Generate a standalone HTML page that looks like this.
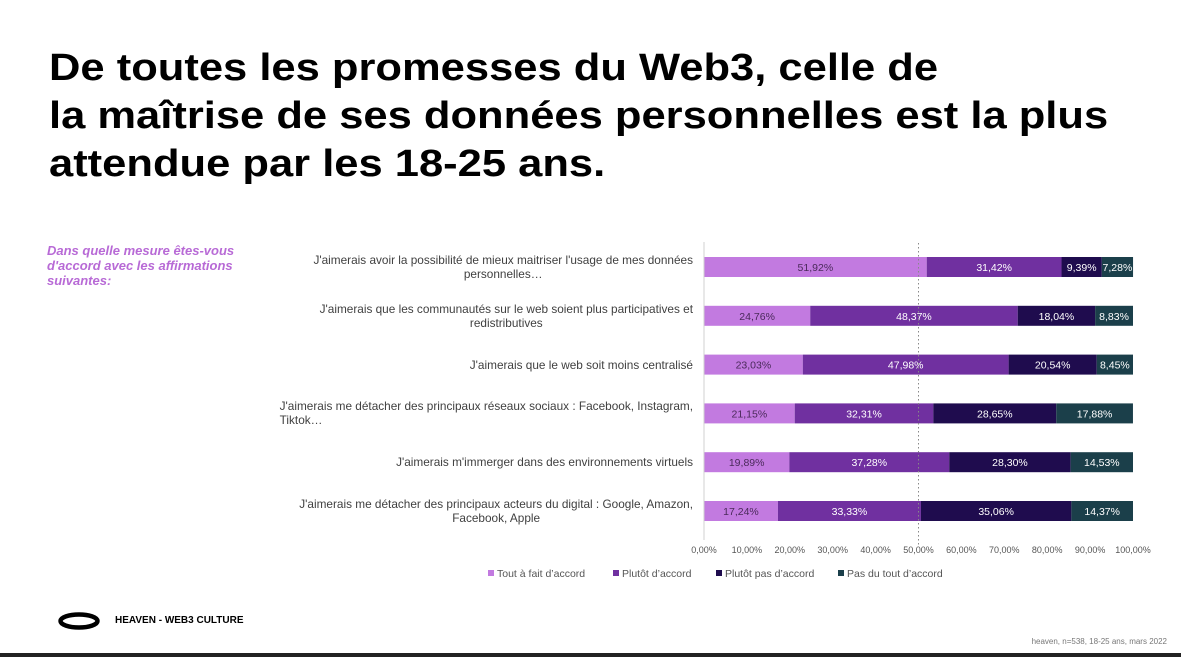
<!DOCTYPE html>
<html><head><meta charset="utf-8"><style>
body{margin:0;width:1181px;height:657px;background:#fff;overflow:hidden;position:relative;font-family:"Liberation Sans",sans-serif}
#title{position:absolute;left:49px;top:44px;font-size:38px;font-weight:bold;line-height:48px;color:#000;transform:scaleX(1.145);transform-origin:0 0;white-space:nowrap}
#q{position:absolute;left:47px;top:243px;width:230px;font-size:13px;font-weight:bold;font-style:italic;color:#b86ad6;line-height:15px}
.lab{position:absolute;right:488px;text-align:center;font-size:11.8px;color:#404040;line-height:14px;white-space:nowrap}
#brand{position:absolute;left:115px;top:615px;font-size:10px;font-weight:bold;color:#000}
#src{position:absolute;right:14px;top:637px;font-size:8px;color:#777}
</style></head><body>
<div id="title">De toutes les promesses du Web3, celle de<br>la maîtrise de ses données personnelles est la plus<br>attendue par les 18-25 ans.</div>
<div id="q">Dans quelle mesure êtes-vous d'accord avec les affirmations suivantes:</div>
<div id="labels"></div>
<svg id="chart" width="1181" height="657" style="position:absolute;left:0;top:0"></svg>
<svg style="position:absolute;left:57px;top:611px" width="44" height="22"><ellipse cx="22" cy="10" rx="18.5" ry="6.5" fill="none" stroke="#000" stroke-width="4.5"/></svg>
<div id="brand">HEAVEN - WEB3 CULTURE</div>
<div id="src">heaven, n=538, 18-25 ans, mars 2022</div>
<div style="position:absolute;left:0;top:653px;width:1181px;height:4px;background:#222"></div>
<script>
const categories=["J'aimerais avoir la possibilité de mieux maitriser l'usage de mes données|personnelles…","J'aimerais que les communautés sur le web soient plus participatives et|redistributives","J'aimerais que le web soit moins centralisé","J'aimerais me détacher des principaux réseaux sociaux : Facebook, Instagram,|Tiktok…","J'aimerais m'immerger dans des environnements virtuels","J'aimerais me détacher des principaux acteurs du digital : Google, Amazon,|Facebook, Apple"];
const tout=[51.92,24.76,23.03,21.15,19.89,17.24];
const plutot=[31.42,48.37,47.98,32.31,37.28,33.33];
const plutotPas=[9.39,18.04,20.54,28.65,28.30,35.06];
const pasDuTout=[7.28,8.83,8.45,17.88,14.53,14.37];
const seriesNames=["Tout à fait d’accord","Plutôt d’accord","Plutôt pas d’accord","Pas du tout d’accord"];
const ticks=[0,10,20,30,40,50,60,70,80,90,100];
const colors=["#c27ae0","#7030a0","#1f0c4e","#1b3f4a"];
const textCols=["#4a2a5a","#fff","#fff","#fff"];
const x0=704,x1=1133;
const xs=v=>x0+(x1-x0)*v/100;
const ys=i=>267+i*48.8;
const NS="http://www.w3.org/2000/svg";
const svg=document.getElementById('chart');
function mk(t,a){const e=document.createElementNS(NS,t);for(const k in a)e.setAttribute(k,a[k]);svg.appendChild(e);return e;}
const fmt=v=>v.toFixed(2).replace('.',',')+'%';
const series=[tout,plutot,plutotPas,pasDuTout];
const labs=document.getElementById('labels');
categories.forEach((c,i)=>{
  let acc=0;
  series.forEach((s,j)=>{
    const v=s[i];
    const r=mk('rect',{x:xs(acc),y:ys(i)-10,width:xs(acc+v)-xs(acc),height:20,fill:colors[j]});
    
    
    const t=mk('text',{x:(xs(acc)+xs(acc+v))/2,y:ys(i)+4,'text-anchor':'middle','font-size':'10.5',fill:textCols[j],'font-family':'Liberation Sans, sans-serif'});
    t.textContent=fmt(v);
    
    
    acc+=v;
  });
  const d=document.createElement('div');
  d.className='lab';
  const parts=c.split('|');
  parts.forEach((p,k)=>{if(k)d.appendChild(document.createElement('br'));d.appendChild(document.createTextNode(p));});
  if(i===3)d.style.textAlign='left';
  d.style.top=(ys(i)-(parts.length*14)/2)+'px';
  
  
  labs.appendChild(d);
});
const ax=mk('line',{x1:x0,y1:242,x2:x0,y2:540,stroke:'#d0d0d0','stroke-width':1});


const dl=mk('line',{x1:xs(50),y1:243,x2:xs(50),y2:546,stroke:'#888','stroke-width':1,'stroke-dasharray':'1.5,2.5'});


ticks.forEach(t=>{
  const e=mk('text',{x:xs(t),y:553,'text-anchor':'middle','font-size':'9',fill:'#555','font-family':'Liberation Sans, sans-serif'});
  e.textContent=t.toFixed(2).replace('.',',')+'%';
  
  
});
const lx=[488,613,716,838];
seriesNames.forEach((n,j)=>{
  const r=mk('rect',{x:lx[j],y:570,width:6,height:6,fill:colors[j]});
  
  
  const t=mk('text',{x:lx[j]+9,y:577,'font-size':'10.5',fill:'#555','font-family':'Liberation Sans, sans-serif'});
  t.textContent=n;
  
  
});
</script>
</body></html>
